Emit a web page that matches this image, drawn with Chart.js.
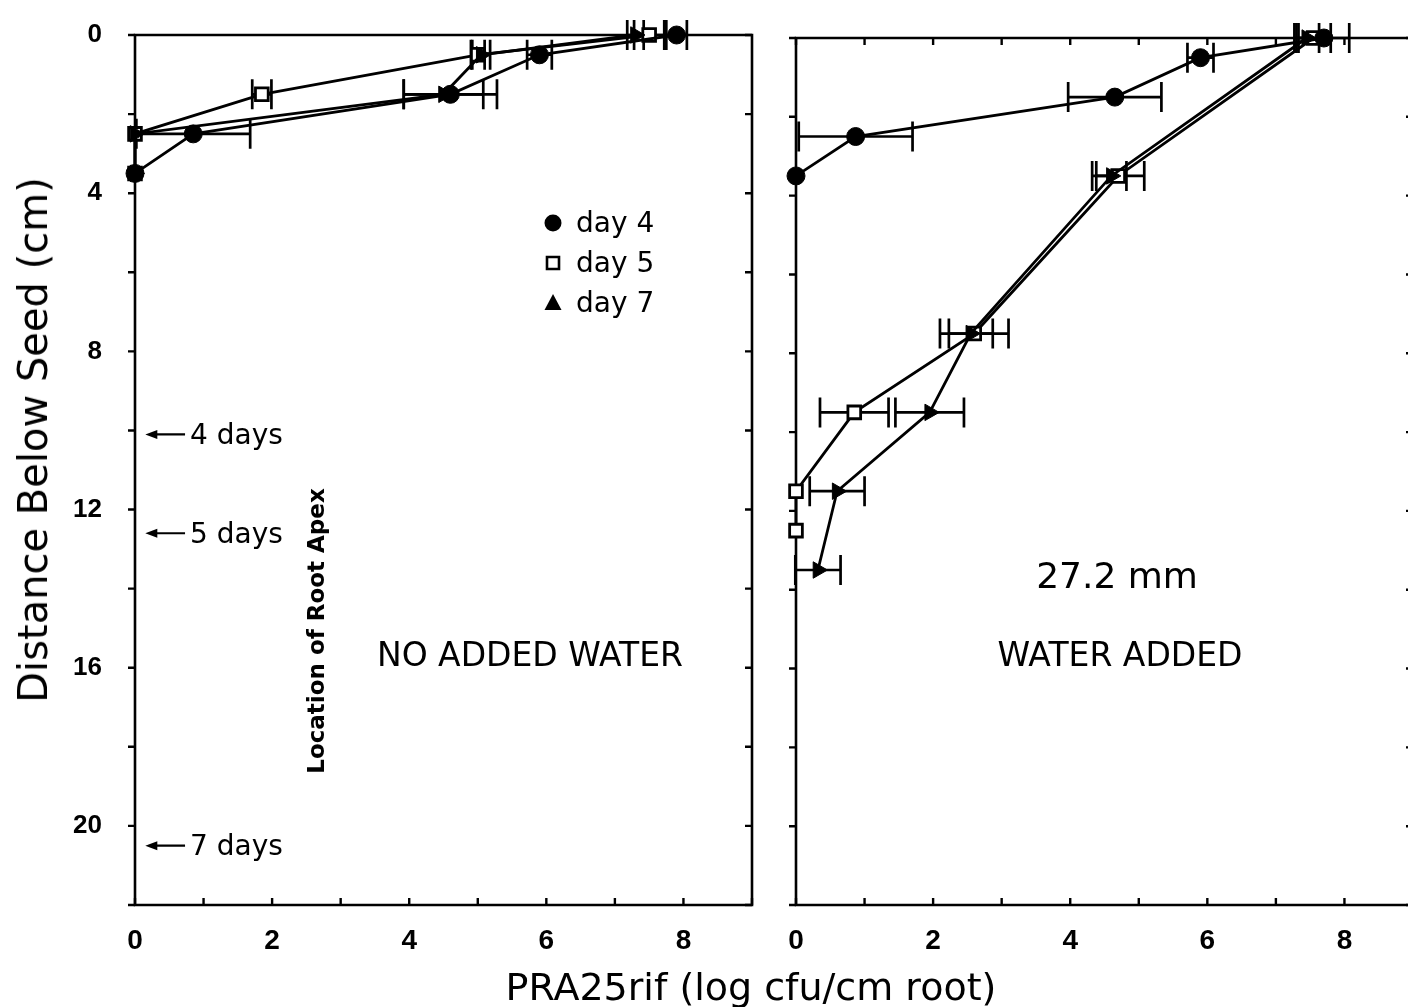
<!DOCTYPE html>
<html>
<head>
<meta charset="utf-8">
<script src="https://cdn.jsdelivr.net/npm/chart.js@4.4.0/dist/chart.umd.min.js"></script>
<style>
html, body { margin: 0; padding: 0; background: #fff; overflow: hidden; width: 1408px; height: 1007px; }
#left { position: absolute; left: 0; top: 0; }
#right { position: absolute; left: 760px; top: 0; }
.ttl { position: absolute; font-family: "DejaVu Sans"; color: #000; white-space: nowrap; transform: translate(-50%, -50%); }
#ytitle { left: 33px; top: 440px; font-size: 40px; transform: translate(-50%, -50%) rotate(-90deg); }
#xtitle { left: 751px; top: 987px; font-size: 38px; }
</style>
</head>
<body>
<canvas id="left" width="772" height="1007"></canvas>
<canvas id="right" width="673" height="1007"></canvas>
<div class="ttl" id="ytitle">Distance Below Seed (cm)</div>
<div class="ttl" id="xtitle">PRA25rif (log cfu/cm root)</div>
<script>
// NO ADDED WATER (left panel), depth in cm below seed
var dryDepth = [0, 0.5, 1.5, 2.5, 3.5];
var dryDay4 = [7.9, 5.9, 4.6, 0.85, 0];
var dryDay4Err = [0.15, 0.18, 0.68, 0.83, 0];
var dryDay5 = [7.5, 5.0, 1.85, 0, 0];
var dryDay5Err = [0.22, 0.1, 0.14, 0, 0];
var dryDay7 = [7.3, 5.05, 4.5, 0, 0];
var dryDay7Err = [0.12, 0.13, 0.58, 0, 0];

// WATER ADDED (right panel)
var wetDay4Depth = [0, 0.5, 1.5, 2.5, 3.5];
var wetDay4 = [7.7, 5.9, 4.65, 0.87, 0];
var wetDay4Err = [0.37, 0.19, 0.68, 0.83, 0];
var wetDay5Depth = [0, 3.5, 7.5, 9.5, 11.5, 12.5];
var wetDay5 = [7.55, 4.7, 2.6, 0.85, 0, 0];
var wetDay5Err = [0.25, 0.38, 0.5, 0.5, 0, 0];
var wetDay7Depth = [0, 3.5, 7.5, 9.5, 11.5, 13.5];
var wetDay7 = [7.45, 4.6, 2.55, 1.95, 0.6, 0.32];
var wetDay7Err = [0.18, 0.22, 0.32, 0.5, 0.4, 0.33];

var xTickLabels = [0, 2, 4, 6, 8];
var yTickLabels = [0, 4, 8, 12, 16, 20];
var legendLabels = ['day 4', 'day 5', 'day 7'];
var apexDepth = [10.1, 12.6, 20.5];
var apexLabels = ['4 days', '5 days', '7 days'];

Chart.defaults.font.family = 'DejaVu Sans';
Chart.defaults.color = '#000';

function pts(depths, vals) {
  return vals.map(function (v, i) { return { x: v, y: depths[i] }; });
}

var circleStyle = { order: 0, pointStyle: 'circle', pointRadius: 9, pointBackgroundColor: '#000', pointBorderWidth: 1 };
var squareStyle = { order: 2, pointStyle: 'rect', pointRadius: 9, pointBackgroundColor: '#fff', pointBorderWidth: 2.8 };
var triStyle = { order: 1, pointStyle: 'triangle', pointRadius: 9.5, pointRotation: 90, pointBackgroundColor: '#000', pointBorderWidth: 1 };

function ds(label, data, errs, style) {
  return Object.assign({
    label: label, data: data, errs: errs, showLine: true,
    borderColor: '#000', borderWidth: 2.8, pointBorderColor: '#000',
    pointHoverRadius: 0, clip: false
  }, style);
}

// horizontal error bars with end caps
var errorBars = {
  id: 'errorBars',
  beforeDatasetsDraw: function (chart) {
    var ctx = chart.ctx, xs = chart.scales.x, ys = chart.scales.y;
    ctx.save();
    ctx.strokeStyle = '#000';
    ctx.lineWidth = 2.7;
    chart.data.datasets.forEach(function (d) {
      (d.errs || []).forEach(function (e, i) {
        if (!e) return;
        var p = d.data[i];
        var x0 = xs.getPixelForValue(p.x - e), x1 = xs.getPixelForValue(p.x + e), y = ys.getPixelForValue(p.y);
        ctx.beginPath();
        ctx.moveTo(x0, y); ctx.lineTo(x1, y);
        ctx.moveTo(x0, y - 15); ctx.lineTo(x0, y + 15);
        ctx.moveTo(x1, y - 15); ctx.lineTo(x1, y + 15);
        ctx.stroke();
      });
    });
    ctx.restore();
  }
};

// box frame and tick marks (out = outside the box, in = inside)
function framePlugin(sides) {
  return {
    id: 'frame',
    beforeDatasetsDraw: function (chart) {
      var ctx = chart.ctx, a = chart.chartArea, xs = chart.scales.x, ys = chart.scales.y, len = 7;
      ctx.save();
      ctx.strokeStyle = '#000';
      ctx.lineWidth = 2.6;
      ctx.beginPath();
      ctx.rect(a.left, a.top, a.right - a.left, a.bottom - a.top);
      ctx.stroke();
      ctx.lineWidth = 2.4;
      ctx.beginPath();
      ys.ticks.forEach(function (t) {
        var y = ys.getPixelForValue(t.value);
        if (sides.left) { var d = sides.left === 'out' ? -len : len; ctx.moveTo(a.left, y); ctx.lineTo(a.left + d, y); }
        if (sides.right) { var d2 = sides.right === 'out' ? len : -len; ctx.moveTo(a.right, y); ctx.lineTo(a.right + d2, y); }
      });
      xs.ticks.forEach(function (t) {
        var x = xs.getPixelForValue(t.value);
        if (sides.bottom) { var d = sides.bottom === 'out' ? len : -len; ctx.moveTo(x, a.bottom); ctx.lineTo(x, a.bottom + d); }
        if (sides.top) { var d2 = sides.top === 'out' ? -len : len; ctx.moveTo(x, a.top); ctx.lineTo(x, a.top + d2); }
      });
      ctx.stroke();
      ctx.restore();
    }
  };
}

function marker(ctx, kind, x, y) {
  ctx.beginPath();
  if (kind === 0) {
    ctx.arc(x, y, 8.5, 0, Math.PI * 2);
    ctx.fillStyle = '#000'; ctx.fill();
  } else if (kind === 1) {
    ctx.rect(x - 6, y - 6, 12, 12);
    ctx.fillStyle = '#fff'; ctx.fill();
    ctx.lineWidth = 2.6; ctx.strokeStyle = '#000'; ctx.stroke();
  } else {
    ctx.moveTo(x, y - 9); ctx.lineTo(x + 8.5, y + 7); ctx.lineTo(x - 8.5, y + 7); ctx.closePath();
    ctx.fillStyle = '#000'; ctx.fill();
  }
}

var leftNotes = {
  id: 'leftNotes',
  afterDraw: function (chart) {
    var ctx = chart.ctx, xs = chart.scales.x, ys = chart.scales.y;
    ctx.save();
    ctx.fillStyle = '#000';
    ctx.strokeStyle = '#000';
    ctx.textBaseline = 'middle';
    // legend
    ctx.font = '28px "DejaVu Sans"';
    legendLabels.forEach(function (s, i) {
      var y = 223 + i * 40;
      marker(ctx, i, 553, y);
      ctx.fillStyle = '#000';
      ctx.textAlign = 'left';
      ctx.fillText(s, 576, y + 2);
    });
    // root apex arrows
    apexDepth.forEach(function (d, i) {
      var y = ys.getPixelForValue(d);
      var xa = xs.getPixelForValue(0.15), xb = xs.getPixelForValue(0.73);
      ctx.lineWidth = 2.2;
      ctx.beginPath(); ctx.moveTo(xa + 8, y); ctx.lineTo(xb, y); ctx.stroke();
      ctx.beginPath(); ctx.moveTo(xa, y); ctx.lineTo(xa + 12, y - 4.5); ctx.lineTo(xa + 12, y + 4.5); ctx.closePath(); ctx.fill();
      ctx.textAlign = 'left';
      ctx.fillText(apexLabels[i], xb + 5, y + 2);
    });
    ctx.font = '33px "DejaVu Sans"';
    ctx.textAlign = 'center';
    ctx.fillText('NO ADDED WATER', 530, 657);
    ctx.translate(318, 631);
    ctx.rotate(-Math.PI / 2);
    ctx.font = 'bold 23px "DejaVu Sans"';
    ctx.fillText('Location of Root Apex', 0, 0);
    ctx.restore();
  }
};

var rightNotes = {
  id: 'rightNotes',
  afterDraw: function (chart) {
    var ctx = chart.ctx;
    ctx.save();
    ctx.fillStyle = '#000';
    ctx.textBaseline = 'middle';
    ctx.textAlign = 'center';
    ctx.font = '36px "DejaVu Sans"';
    ctx.fillText('27.2 mm', 357, 579);
    ctx.font = '33px "DejaVu Sans"';
    ctx.fillText('WATER ADDED', 360, 657);
    ctx.restore();
  }
};

function makeOptions(yWidth, padTop, showY) {
  return {
    responsive: false,
    animation: false,
    devicePixelRatio: 1,
    layout: { padding: { top: padTop, right: 20, left: 0, bottom: 0 } },
    plugins: { legend: { display: false }, tooltip: { enabled: false } },
    scales: {
      x: {
        type: 'linear', min: 0, max: 9,
        grid: { display: false, drawTicks: false },
        border: { display: false },
        afterFit: function (s) { s.height = 102; s.paddingLeft = 0; s.paddingRight = 0; },
        ticks: {
          stepSize: 1, autoSkip: false, maxRotation: 0, padding: 19,
          font: { family: 'Liberation Sans', size: 28, weight: 'bold' },
          callback: function (v) { return xTickLabels.indexOf(v) >= 0 ? String(v) : ''; }
        }
      },
      y: {
        type: 'linear', min: 0, max: 22, reverse: true,
        grid: { display: false, drawTicks: false },
        border: { display: false },
        afterFit: function (s) { s.width = yWidth; s.paddingTop = 0; s.paddingBottom = 0; },
        ticks: {
          display: showY, stepSize: 2, autoSkip: false, padding: 33,
          font: { family: 'Liberation Sans', size: 26, weight: 'bold' },
          callback: function (v) { return yTickLabels.indexOf(v) >= 0 ? String(v) : ''; }
        }
      }
    }
  };
}

new Chart(document.getElementById('left'), {
  type: 'scatter',
  data: {
    datasets: [
      ds('day 4', pts(dryDepth, dryDay4), dryDay4Err, circleStyle),
      ds('day 5', pts(dryDepth, dryDay5), dryDay5Err, squareStyle),
      ds('day 7', pts(dryDepth, dryDay7), dryDay7Err, triStyle)
    ]
  },
  options: makeOptions(135, 35, true),
  plugins: [framePlugin({ left: 'out', right: 'in', bottom: 'in' }), errorBars, leftNotes]
});

new Chart(document.getElementById('right'), {
  type: 'scatter',
  data: {
    datasets: [
      ds('day 4', pts(wetDay4Depth, wetDay4), wetDay4Err, circleStyle),
      ds('day 5', pts(wetDay5Depth, wetDay5), wetDay5Err, squareStyle),
      ds('day 7', pts(wetDay7Depth, wetDay7), wetDay7Err, triStyle)
    ]
  },
  options: makeOptions(36, 38, false),
  plugins: [framePlugin({ left: 'out', right: 'in', bottom: 'in', top: 'in' }), errorBars, rightNotes]
});
</script>
</body>
</html>
